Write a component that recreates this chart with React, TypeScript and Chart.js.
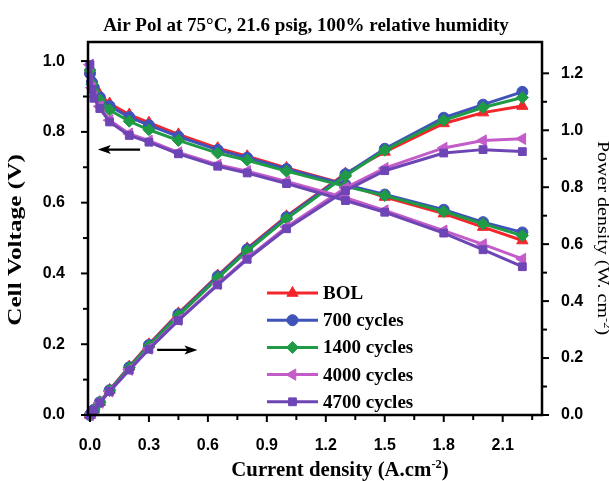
import React, { useEffect, useRef } from 'react';
import { Chart, registerables } from 'chart.js';
import { drawPoint } from 'chart.js/helpers';

Chart.register(...registerables);

const TITLE = 'Air Pol at 75°C, 21.6 psig, 100% relative humidity';

const CURRENT = [0, 0.01, 0.02, 0.05, 0.1, 0.2, 0.3, 0.45, 0.65, 0.8, 1.0, 1.3, 1.5, 1.8, 2.0, 2.2];

const V_BOL = [0.975, 0.95, 0.93, 0.905, 0.88, 0.849, 0.826, 0.793, 0.754, 0.731, 0.698, 0.652, 0.616, 0.569, 0.531, 0.493];
const V_700 = [0.965, 0.94, 0.925, 0.898, 0.873, 0.842, 0.819, 0.787, 0.749, 0.727, 0.695, 0.651, 0.623, 0.58, 0.545, 0.516];
const V_1400 = [0.975, 0.935, 0.915, 0.89, 0.862, 0.83, 0.806, 0.776, 0.74, 0.72, 0.689, 0.646, 0.62, 0.575, 0.54, 0.507];
const V_4000 = [0.99, 0.925, 0.9, 0.872, 0.833, 0.795, 0.775, 0.742, 0.707, 0.689, 0.66, 0.614, 0.578, 0.521, 0.482, 0.441];
const V_4700 = [0.99, 0.92, 0.895, 0.866, 0.828, 0.79, 0.771, 0.738, 0.703, 0.684, 0.654, 0.606, 0.573, 0.514, 0.467, 0.419];

const P_BOL = [0, 0.0095, 0.0186, 0.045, 0.088, 0.17, 0.248, 0.357, 0.49, 0.585, 0.698, 0.848, 0.924, 1.024, 1.062, 1.085];
const P_700 = [0, 0.0094, 0.0185, 0.045, 0.087, 0.168, 0.246, 0.354, 0.487, 0.582, 0.695, 0.846, 0.935, 1.044, 1.09, 1.135];
const P_1400 = [0, 0.0094, 0.0183, 0.0445, 0.086, 0.166, 0.242, 0.349, 0.481, 0.576, 0.689, 0.84, 0.93, 1.035, 1.08, 1.115];
const P_4000 = [0, 0.0093, 0.018, 0.0436, 0.083, 0.159, 0.233, 0.334, 0.46, 0.551, 0.66, 0.798, 0.867, 0.938, 0.964, 0.97];
const P_4700 = [0, 0.0092, 0.0179, 0.0433, 0.083, 0.158, 0.231, 0.332, 0.457, 0.547, 0.654, 0.788, 0.858, 0.92, 0.932, 0.925];

const SERIES_LABELS = ['BOL', '700 cycles', '1400 cycles', '4000 cycles', '4700 cycles'];
const SERIES_COLORS = ['#f3262c', '#3f53b8', '#1f9a45', '#c35bc9', '#6d45b5'];
const POINT_STYLES = ['triangle', 'circle', 'rectRot', 'triangle', 'rect'];
const POINT_ROTATIONS = [0, 0, 0, -90, 0];
const POINT_RADII = [6.5, 5.5, 6, 6.5, 5.5];

const X_TICKS = [0, 0.3, 0.6, 0.9, 1.2, 1.5, 1.8, 2.1];
const X_MINOR = [0.15, 0.45, 0.75, 1.05, 1.35, 1.65, 1.95, 2.25];
const Y_TICKS = [0, 0.2, 0.4, 0.6, 0.8, 1.0];
const Y_MINOR = [0.1, 0.3, 0.5, 0.7, 0.9];
const Y1_TICKS = [0, 0.2, 0.4, 0.6, 0.8, 1.0, 1.2];
const Y1_MINOR = [0.1, 0.3, 0.5, 0.7, 0.9, 1.1];

const SERIF = '"Liberation Serif", "Times New Roman", Times, serif';
const SANS = '"Liberation Sans", Arial, Helvetica, sans-serif';

type Part = { t: string; sup?: boolean };

function drawRich(
  ctx: CanvasRenderingContext2D,
  parts: Part[],
  size: number,
  weight: string,
  x: number,
  y: number,
  angle: number,
  stretch: number
) {
  ctx.save();
  ctx.translate(x, y);
  ctx.rotate(angle);
  ctx.scale(stretch, 1);
  ctx.fillStyle = '#000';
  ctx.textAlign = 'left';
  ctx.textBaseline = 'alphabetic';
  const fontFor = (p: Part) => `${weight} ${p.sup ? Math.round(size * 0.62) : size}px ${SERIF}`;
  let total = 0;
  const widths = parts.map((p) => {
    ctx.font = fontFor(p);
    const w = ctx.measureText(p.t).width;
    total += w;
    return w;
  });
  let cx = -total / 2;
  parts.forEach((p, i) => {
    ctx.font = fontFor(p);
    ctx.fillText(p.t, cx, p.sup ? -size * 0.4 : 0);
    cx += widths[i];
  });
  ctx.restore();
}

function arrow(ctx: CanvasRenderingContext2D, x0: number, x1: number, y: number) {
  const dir = Math.sign(x1 - x0);
  ctx.save();
  ctx.strokeStyle = '#000';
  ctx.fillStyle = '#000';
  ctx.lineWidth = 2.2;
  ctx.beginPath();
  ctx.moveTo(x0, y);
  ctx.lineTo(x1 - dir * 8, y);
  ctx.stroke();
  ctx.beginPath();
  ctx.moveTo(x1, y);
  ctx.lineTo(x1 - dir * 13, y - 4.5);
  ctx.lineTo(x1 - dir * 10, y);
  ctx.lineTo(x1 - dir * 13, y + 4.5);
  ctx.closePath();
  ctx.fill();
  ctx.restore();
}

const decorPlugin = {
  id: 'decor',
  afterDraw(chart: any) {
    const { ctx, chartArea } = chart;
    const sx = chart.scales.x;
    const sy = chart.scales.y;
    const sy1 = chart.scales.y1;
    ctx.save();

    // frame
    ctx.strokeStyle = '#000';
    ctx.lineWidth = 2.5;
    ctx.strokeRect(chartArea.left, chartArea.top, chartArea.right - chartArea.left, chartArea.bottom - chartArea.top);

    // ticks
    ctx.lineWidth = 2;
    const tick = (x0: number, y0: number, x1: number, y1: number) => {
      ctx.beginPath();
      ctx.moveTo(x0, y0);
      ctx.lineTo(x1, y1);
      ctx.stroke();
    };
    X_TICKS.forEach((v) => { const p = sx.getPixelForValue(v); tick(p, chartArea.bottom, p, chartArea.bottom + 7); });
    X_MINOR.forEach((v) => { const p = sx.getPixelForValue(v); tick(p, chartArea.bottom, p, chartArea.bottom + 5); });
    Y_TICKS.forEach((v) => { const p = sy.getPixelForValue(v); tick(chartArea.left, p, chartArea.left - 7, p); });
    Y_MINOR.forEach((v) => { const p = sy.getPixelForValue(v); tick(chartArea.left, p, chartArea.left - 5, p); });
    Y1_TICKS.forEach((v) => { const p = sy1.getPixelForValue(v); tick(chartArea.right, p, chartArea.right + 7, p); });
    Y1_MINOR.forEach((v) => { const p = sy1.getPixelForValue(v); tick(chartArea.right, p, chartArea.right + 5, p); });

    // arrows
    arrow(ctx, sx.getPixelForValue(0.255), sx.getPixelForValue(0.04), sy.getPixelForValue(0.75));
    arrow(ctx, sx.getPixelForValue(0.342), sx.getPixelForValue(0.547), sy.getPixelForValue(0.184));

    // title
    drawRich(ctx, [{ t: TITLE }], 19, 'bold', 306, 31, 0, 1);
    // axis titles
    drawRich(ctx, [{ t: 'Current density (A.cm' }, { t: '-2', sup: true }, { t: ')' }], 20, 'bold', 340, 476, 0, 1.04);
    drawRich(ctx, [{ t: 'Cell Voltage (V)' }], 19, 'bold', 21, 240, -Math.PI / 2, 1.33);
    drawRich(ctx, [{ t: 'Power density (W. cm' }, { t: '-2', sup: true }, { t: ')' }], 16, 'normal', 598, 238, Math.PI / 2, 1.25);

    // legend
    const lx0 = 267;
    const lx1 = 318;
    const ly0 = 293;
    const step = 27.2;
    SERIES_LABELS.forEach((label, i) => {
      const y = ly0 + i * step;
      ctx.strokeStyle = SERIES_COLORS[i];
      ctx.fillStyle = SERIES_COLORS[i];
      ctx.lineWidth = 3;
      ctx.beginPath();
      ctx.moveTo(lx0, y);
      ctx.lineTo(lx1, y);
      ctx.stroke();
      ctx.lineWidth = 1;
      drawPoint(ctx, { pointStyle: POINT_STYLES[i], rotation: POINT_ROTATIONS[i], radius: POINT_RADII[i], borderWidth: 1 } as any, (lx0 + lx1) / 2, y);
      ctx.fillStyle = '#000';
      ctx.font = `bold 19px ${SERIF}`;
      ctx.textAlign = 'left';
      ctx.textBaseline = 'middle';
      ctx.fillText(label, 323, y + 1);
    });

    ctx.restore();
  },
};

export default function App() {
  const ref = useRef<HTMLCanvasElement>(null);

  useEffect(() => {
    const canvas = ref.current;
    if (!canvas) return;
    const V = [V_BOL, V_700, V_1400, V_4000, V_4700];
    const P = [P_BOL, P_700, P_1400, P_4000, P_4700];
    const datasets: any[] = [];
    SERIES_LABELS.forEach((label, s) => {
      const common = {
        borderColor: SERIES_COLORS[s],
        backgroundColor: SERIES_COLORS[s],
        pointBorderColor: SERIES_COLORS[s],
        pointBackgroundColor: SERIES_COLORS[s],
        borderWidth: 3,
        pointStyle: POINT_STYLES[s],
        pointRotation: POINT_ROTATIONS[s],
        pointRadius: POINT_RADII[s],
        pointBorderWidth: 1,
        tension: 0,
        clip: false,
        order: SERIES_LABELS.length - s,
      };
      datasets.push({ ...common, label, yAxisID: 'y', data: CURRENT.map((x, i) => ({ x, y: V[s][i] })) });
      datasets.push({ ...common, label: label + ' (power)', yAxisID: 'y1', data: CURRENT.map((x, i) => ({ x, y: P[s][i] })) });
    });

    const tickFont = { family: SANS, size: 16, weight: 'bold' as const };
    const fmt = (v: any) => Number(v).toFixed(1);

    const chart = new Chart(canvas, {
      type: 'line',
      data: { datasets },
      options: {
        responsive: false,
        devicePixelRatio: 1,
        animation: false,
        layout: { padding: { top: 42, left: 0, right: 0, bottom: 0 } },
        plugins: { legend: { display: false }, title: { display: false }, tooltip: { enabled: false } },
        scales: {
          x: {
            type: 'linear',
            min: -0.01,
            max: 2.3,
            grid: { display: false },
            border: { display: false },
            ticks: { font: tickFont, color: '#000', padding: 13, autoSkip: false, maxRotation: 0, callback: fmt },
            afterBuildTicks: (s: any) => { s.ticks = X_TICKS.map((value) => ({ value })); },
            afterFit: (s: any) => { s.height = 66; },
          },
          y: {
            type: 'linear',
            position: 'left',
            min: 0,
            max: 1.054,
            grid: { display: false },
            border: { display: false },
            ticks: { font: tickFont, color: '#000', padding: 15, autoSkip: false, callback: fmt },
            afterBuildTicks: (s: any) => { s.ticks = Y_TICKS.map((value) => ({ value })); },
            afterFit: (s: any) => { s.width = 88; },
          },
          y1: {
            type: 'linear',
            position: 'right',
            min: 0,
            max: 1.31,
            grid: { display: false },
            border: { display: false },
            ticks: { font: tickFont, color: '#000', padding: 11, autoSkip: false, callback: fmt },
            afterBuildTicks: (s: any) => { s.ticks = Y1_TICKS.map((value) => ({ value })); },
            afterFit: (s: any) => { s.width = 67; },
          },
        },
      } as any,
      plugins: [decorPlugin],
    });
    return () => chart.destroy();
  }, []);

  return (
    <div style={{ position: 'absolute', left: 0, top: 0, width: 609, height: 481, background: '#fff' }}>
      <canvas ref={ref} width={609} height={481} style={{ display: 'block', width: 609, height: 481 }} />
    </div>
  );
}
